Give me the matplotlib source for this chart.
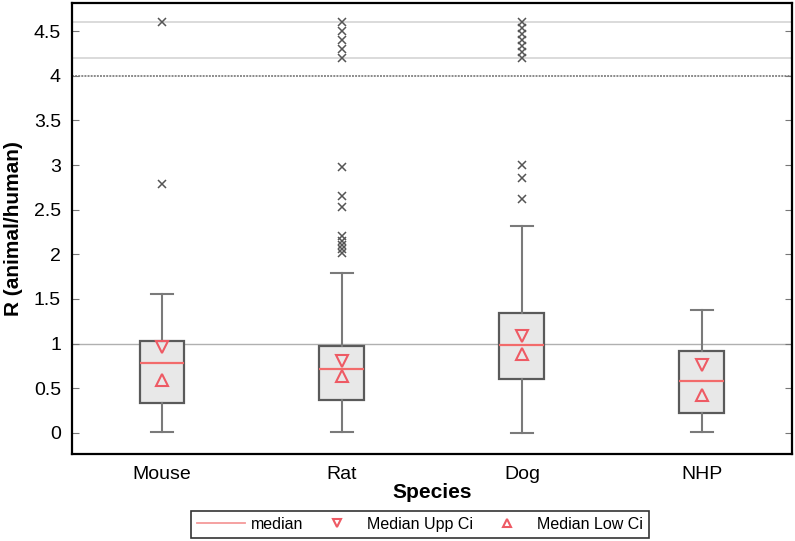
import numpy as np
import matplotlib.pyplot as plt

plt.rcParams['font.family'] = ['Liberation Sans', 'DejaVu Sans']

# Box statistics
species = ["Mouse", "Rat", "Dog", "NHP"]
q1 = [0.34, 0.37, 0.60, 0.22]
median = [0.78, 0.72, 0.99, 0.58]
q3 = [1.03, 0.97, 1.34, 0.92]
whisk_lo = [0.01, 0.01, 0.0, 0.01]
whisk_hi = [1.56, 1.79, 2.32, 1.38]
ci_upp = [0.96, 0.80, 1.09, 0.76]
ci_low = [0.59, 0.64, 0.88, 0.43]
outliers = [
    [2.79, 4.6],
    [2.98, 2.65, 2.53, 2.21, 2.15, 2.10, 2.06, 2.01, 4.2, 4.3, 4.4, 4.5, 4.6],
    [3.0, 2.86, 2.62, 4.2, 4.27, 4.33, 4.4, 4.47, 4.53, 4.6],
    [],
]

stats = []
for i in range(len(species)):
    stats.append(dict(med=median[i], q1=q1[i], q3=q3[i], whislo=whisk_lo[i],
                      whishi=whisk_hi[i], fliers=outliers[i], label=species[i]))

fig = plt.figure(figsize=(7.95, 5.41), dpi=100)
ax = fig.add_axes([0.0906, 0.161, 0.9054, 0.8335])

# reference lines
ax.axhline(1.0, color="#b0b0b0", lw=1.0, zorder=0)
ax.axhline(4.2, color="#d4d4d4", lw=1.2, zorder=0)
ax.axhline(4.6, color="#d4d4d4", lw=1.2, zorder=0)
ax.axhline(4.0, color="#8a8a8a", lw=1.4, ls=(0, (1, 0.6)), zorder=0)

pos = np.arange(1, len(species) + 1)
ax.bxp(stats, positions=pos, widths=0.25, patch_artist=True, showfliers=True,
       boxprops=dict(facecolor="#e8e8e8", edgecolor="#5a5a5a", lw=1.6),
       whiskerprops=dict(color="#7a7a7a", lw=1.5),
       capprops=dict(color="#7a7a7a", lw=1.5),
       medianprops=dict(color="#f26b6b", lw=1.6),
       flierprops=dict(marker="x", markeredgecolor="#555555", markersize=5.5, markeredgewidth=1.1))

ax.plot([], [], color="#f59a9a", lw=1.3, label="median")
ax.plot(pos, ci_upp, ls="none", marker="v", markersize=8, markerfacecolor="none",
        markeredgecolor="#ee5a64", markeredgewidth=1.5, label="Median Upp Ci")
ax.plot(pos, ci_low, ls="none", marker="^", markersize=8, markerfacecolor="none",
        markeredgecolor="#ee5a64", markeredgewidth=1.5, label="Median Low Ci")

ax.set_xlim(0.5, 4.5)
ax.set_ylim(-0.235, 4.815)
ax.set_yticks(np.arange(0, 4.51, 0.5))
ax.set_yticklabels(["0", "0.5", "1", "1.5", "2", "2.5", "3", "3.5", "4", "4.5"])
ax.set_xticks(pos)
ax.set_xticklabels(species)
ax.tick_params(axis="y", direction="in", length=5, color="#777777", right=True,
               labelsize=14, pad=8)
ax.tick_params(axis="x", length=0, labelsize=14, pad=9)
for s in ax.spines.values():
    s.set_linewidth(1.6)
    s.set_color("black")

ax.set_xlabel("Species", fontsize=15, fontweight="bold", labelpad=0)
ax.set_ylabel("R (animal/human)", fontsize=15, fontweight="bold", labelpad=8)

leg = fig.legend(loc="center", bbox_to_anchor=(0.528, 0.0305), ncol=3, fontsize=11.5,
                 frameon=True, fancybox=False, edgecolor="black", handlelength=3,
                 handletextpad=0.4, columnspacing=0.6, borderpad=0.35,
                 markerscale=0.75)
leg.get_frame().set_linewidth(1.2)

plt.savefig("out.png", dpi=100)
